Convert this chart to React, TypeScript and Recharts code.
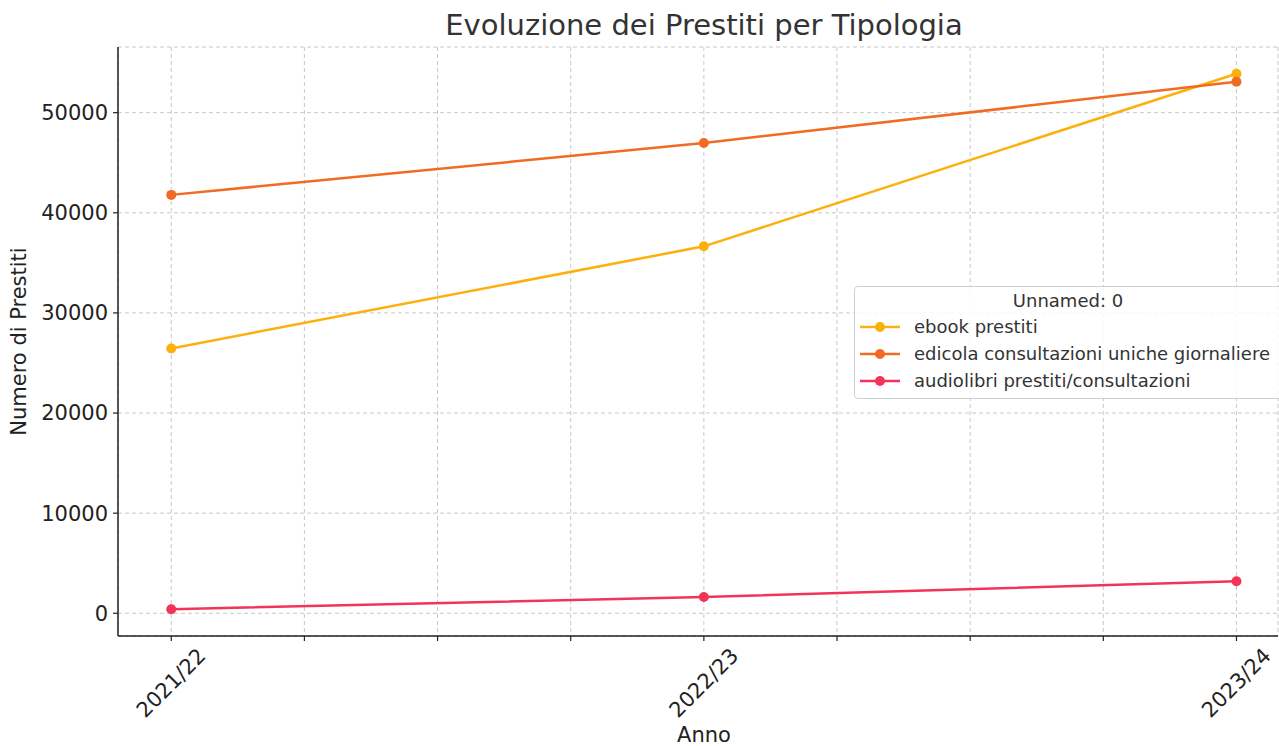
import { LineChart, Line, XAxis, YAxis, CartesianGrid, Label } from 'recharts';

const years = ['2021/22', '2022/23', '2023/24'];
const ebookPrestiti = [26450, 36650, 53890];
const edicolaConsultazioni = [41790, 46970, 53090];
const audiolibriPrestiti = [400, 1630, 3190];

const xTicks = [0, 0.25, 0.5, 0.75, 1, 1.25, 1.5, 1.75, 2];
const yTicks = [0, 10000, 20000, 30000, 40000, 50000];

const series = [
  { key: 'ebook', name: 'ebook prestiti', color: '#fdaf0b' },
  { key: 'edicola', name: 'edicola consultazioni uniche giornaliere', color: '#f16b22' },
  { key: 'audio', name: 'audiolibri prestiti/consultazioni', color: '#f33459' },
];

const data = years.map((y, i) => ({
  x: i,
  ebook: ebookPrestiti[i],
  edicola: edicolaConsultazioni[i],
  audio: audiolibriPrestiti[i],
}));

const FONT = 'DejaVu Sans, sans-serif';

function XTick(props: any) {
  const { x, y, payload } = props;
  const label = Number.isInteger(payload.value) ? years[payload.value] : '';
  return (
    <g>
      <line x1={x} y1={y - 8} x2={x} y2={y - 3} stroke="#222" strokeWidth={1.2} />
      {label && (
        <text
          x={x}
          y={y + 39}
          textAnchor="middle"
          dominantBaseline="central"
          transform={`rotate(-45, ${x}, ${y + 39})`}
          fill="#222"
          fontSize={21}
          fontFamily={FONT}
        >
          {label}
        </text>
      )}
    </g>
  );
}

function LegendBox() {
  return (
    <div
      style={{
        position: 'absolute',
        left: 854,
        top: 286,
        width: 450,
        height: 113,
        border: '1.5px solid #d0d0d0',
        borderRadius: 4,
        background: 'rgba(255,255,255,0.85)',
        fontFamily: FONT,
        fontSize: 18,
        color: '#333',
        boxSizing: 'border-box',
      }}
    >
      <div style={{ textAlign: 'center', width: 426, marginTop: 2, lineHeight: '24px' }}>Unnamed: 0</div>
      {series.map(s => (
        <div key={s.key} style={{ display: 'flex', alignItems: 'center', height: 27, paddingLeft: 5 }}>
          <svg width={40} height={12} style={{ marginRight: 14 }}>
            <line x1={0} y1={6} x2={40} y2={6} stroke={s.color} strokeWidth={2.5} />
            <circle cx={20} cy={6} r={5} fill={s.color} />
          </svg>
          <span style={{ whiteSpace: 'nowrap' }}>{s.name}</span>
        </div>
      ))}
    </div>
  );
}

export default function App() {
  return (
    <div style={{ position: 'absolute', left: 0, top: 0, width: 1279, height: 746, background: '#fff', overflow: 'hidden' }}>
      <div
        style={{
          position: 'absolute',
          left: 118,
          width: 1172,
          top: 8,
          textAlign: 'center',
          fontFamily: FONT,
          fontSize: 29,
          color: '#333',
        }}
      >
        Evoluzione dei Prestiti per Tipologia
      </div>
      <LineChart width={1279} height={746} data={data} margin={{ top: 47, right: 1, left: 0, bottom: 10 }}>
        <CartesianGrid stroke="#c8c8c8" strokeDasharray="4 3" />
        <XAxis
          dataKey="x"
          type="number"
          domain={[-0.1, 2.078]}
          ticks={xTicks}
          interval={0}
          height={100}
          tick={<XTick />}
          tickLine={false}
          axisLine={{ stroke: '#222', strokeWidth: 1.5 }}
          allowDataOverflow
        >
          <Label value="Anno" position="insideBottom" offset={-6} dx={6} fill="#222" fontSize={21} fontFamily={FONT} />
        </XAxis>
        <YAxis
          type="number"
          domain={[-2270, 56560]}
          ticks={yTicks}
          width={118}
          tick={{ fill: '#222', fontSize: 21, fontFamily: FONT }}
          tickLine={{ stroke: '#222', strokeWidth: 1.2 }}
          tickSize={5}
          tickMargin={5}
          axisLine={{ stroke: '#222', strokeWidth: 1.5 }}
          allowDataOverflow
        >
          <Label
            value="Numero di Prestiti"
            angle={-90}
            position="insideLeft"
            dx={14}
            fill="#222"
            fontSize={21}
            fontFamily={FONT}
            style={{ textAnchor: 'middle' }}
          />
        </YAxis>
        {series.map(s => (
          <Line
            key={s.key}
            type="linear"
            dataKey={s.key}
            name={s.name}
            stroke={s.color}
            strokeWidth={2.5}
            dot={{ r: 5, fill: s.color, stroke: s.color, strokeWidth: 0 }}
            isAnimationActive={false}
          />
        ))}
      </LineChart>
      <LegendBox />
    </div>
  );
}
